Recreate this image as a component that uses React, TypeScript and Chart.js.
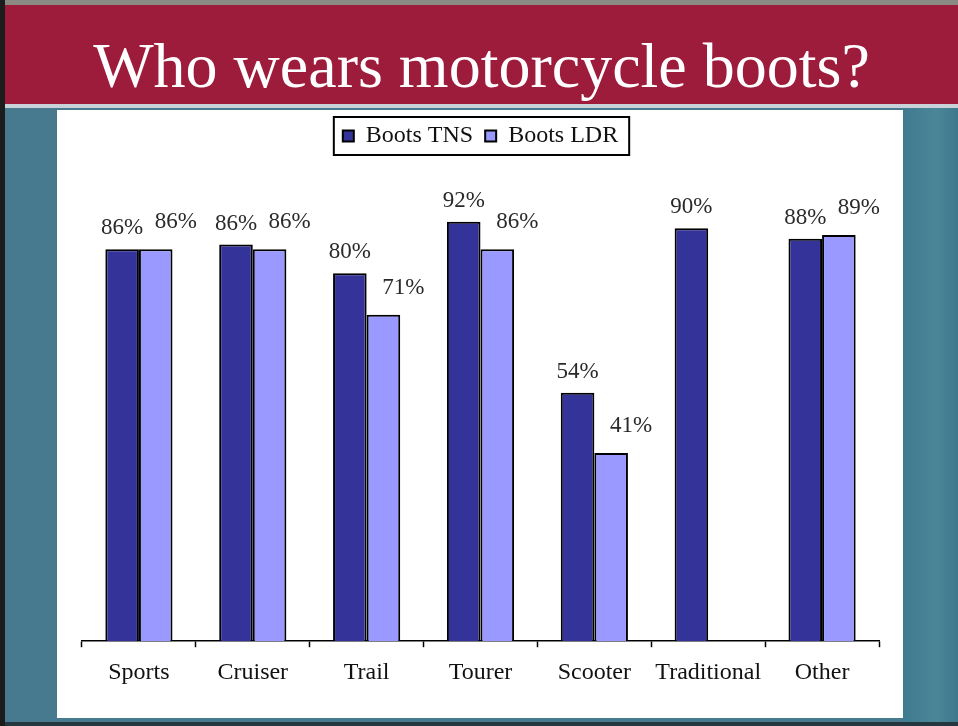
import React, { useEffect, useRef } from "react";
import { Chart, registerables } from "chart.js";

Chart.register(...registerables);

const categories = ["Sports", "Cruiser", "Trail", "Tourer", "Scooter", "Traditional", "Other"];
const tnsValues = [86, 87, 80.7, 92, 54.5, 90.6, 88.3];
const ldrValues = [86, 86, 71.6, 86, 41.3, null, 89.1];
const tnsLabels = ["86%", "86%", "80%", "92%", "54%", "90%", "88%"];
const ldrLabels = ["86%", "86%", "71%", "86%", "41%", "", "89%"];
const seriesNames = ["Boots TNS", "Boots LDR"];

const SERIF = "'Liberation Serif', 'Times New Roman', serif";

const valueLabelPlugin = {
  id: "valueLabels",
  afterDatasetsDraw(chart: any, _args: any, opts: any) {
    const ctx = chart.ctx;
    ctx.save();
    ctx.font = opts.font;
    ctx.fillStyle = opts.color;
    ctx.textAlign = "center";
    ctx.textBaseline = "middle";
    chart.data.datasets.forEach((ds: any, di: number) => {
      const meta = chart.getDatasetMeta(di);
      const off = opts.offsets[di];
      meta.data.forEach((bar: any, i: number) => {
        const txt = ds.valueLabels[i];
        if (ds.data[i] == null || !txt) return;
        ctx.fillText(txt, bar.x + off.dx, bar.y + off.dy);
      });
    });
    ctx.restore();
  },
};

const legendBoxPlugin = {
  id: "legendBox",
  afterDraw(chart: any) {
    const lg = chart.legend;
    if (!lg || !lg.legendHitBoxes || !lg.legendHitBoxes.length) return;
    const hb = lg.legendHitBoxes;
    let l = Infinity, r = -Infinity, t = Infinity, b = -Infinity;
    hb.forEach((h: any) => {
      l = Math.min(l, h.left);
      r = Math.max(r, h.left + h.width);
      t = Math.min(t, h.top);
      b = Math.max(b, h.top + h.height);
    });
    const ctx = chart.ctx;
    ctx.save();
    ctx.strokeStyle = "#000";
    ctx.lineWidth = 2;
    ctx.strokeRect(l - 9, t - 7, r - l + 20, b - t + 14);
    ctx.restore();
  },
};

export default function App() {
  const ref = useRef<HTMLCanvasElement | null>(null);

  useEffect(() => {
    document.body.style.margin = "0";
    if (!ref.current) return;
    const chart = new Chart(ref.current, {
      type: "bar",
      data: {
        labels: categories,
        datasets: [
          {
            label: seriesNames[0],
            data: tnsValues,
            valueLabels: tnsLabels,
            backgroundColor: "#333399",
            borderColor: "#000",
            borderWidth: 2,
            barPercentage: 1,
            categoryPercentage: 0.59,
          } as any,
          {
            label: seriesNames[1],
            data: ldrValues,
            valueLabels: ldrLabels,
            backgroundColor: "#9999FF",
            borderColor: "#000",
            borderWidth: 2,
            barPercentage: 1,
            categoryPercentage: 0.59,
          } as any,
        ],
      },
      options: {
        responsive: false,
        animation: false,
        layout: { padding: { left: 25, right: 24, top: 2, bottom: 20 } },
        scales: {
          x: {
            offset: true,
            grid: {
              offset: true,
              drawOnChartArea: false,
              drawTicks: true,
              tickLength: 6,
              tickColor: "#000",
              tickWidth: 1.5,
            },
            border: { display: true, color: "#000", width: 1.5 },
            ticks: {
              padding: 11,
              color: "#111",
              font: { family: SERIF, size: 24 },
            },
          },
          y: {
            display: false,
            min: 0,
            max: 106,
          },
        },
        plugins: {
          legend: {
            display: true,
            position: "top",
            labels: {
              boxWidth: 11,
              boxHeight: 11,
              padding: 12,
              color: "#111",
              font: { family: SERIF, size: 24 },
            },
          },
          tooltip: { enabled: false },
          valueLabels: {
            font: `23px ${SERIF}`,
            color: "#2a2a2a",
            offsets: [
              { dx: 0, dy: -21 },
              { dx: 20, dy: -27 },
            ],
          },
        } as any,
      },
      plugins: [valueLabelPlugin, legendBoxPlugin],
    });
    return () => chart.destroy();
  }, []);

  return (
    <div
      style={{
        position: "relative",
        width: 958,
        height: 726,
        background: "#477a8e",
        overflow: "hidden",
      }}
    >
      <div style={{ position: "absolute", left: 0, top: 0, width: 958, height: 5, background: "#8a8a82" }} />
      <div style={{ position: "absolute", left: 0, top: 0, width: 5, height: 726, background: "#1c1c1c" }} />
      <div
        style={{
          position: "absolute",
          left: 5,
          top: 5,
          width: 953,
          height: 99,
          background: "#9d1b3b",
        }}
      />
      <div style={{ position: "absolute", left: 5, top: 104, width: 953, height: 4, background: "#c9d2d8" }} />
      <div
        style={{
          position: "absolute",
          left: 903,
          top: 108,
          width: 55,
          height: 614,
          background: "linear-gradient(90deg, #3f7b8f, #4a8598 60%, #3d788c)",
        }}
      />
      <div style={{ position: "absolute", left: 5, top: 722, width: 953, height: 4, background: "#24363e" }} />
      <div
        style={{
          position: "absolute",
          left: 5,
          top: 34,
          width: 953,
          textAlign: "center",
          fontFamily: SERIF,
          fontSize: 64,
          lineHeight: "64px",
          color: "#ffffff",
          whiteSpace: "nowrap",
        }}
      >
        Who wears motorcycle boots?
      </div>
      <div
        style={{
          position: "absolute",
          left: 57,
          top: 110,
          width: 846,
          height: 608,
          background: "#ffffff",
        }}
      >
        <canvas ref={ref} width={846} height={608} />
      </div>
    </div>
  );
}
